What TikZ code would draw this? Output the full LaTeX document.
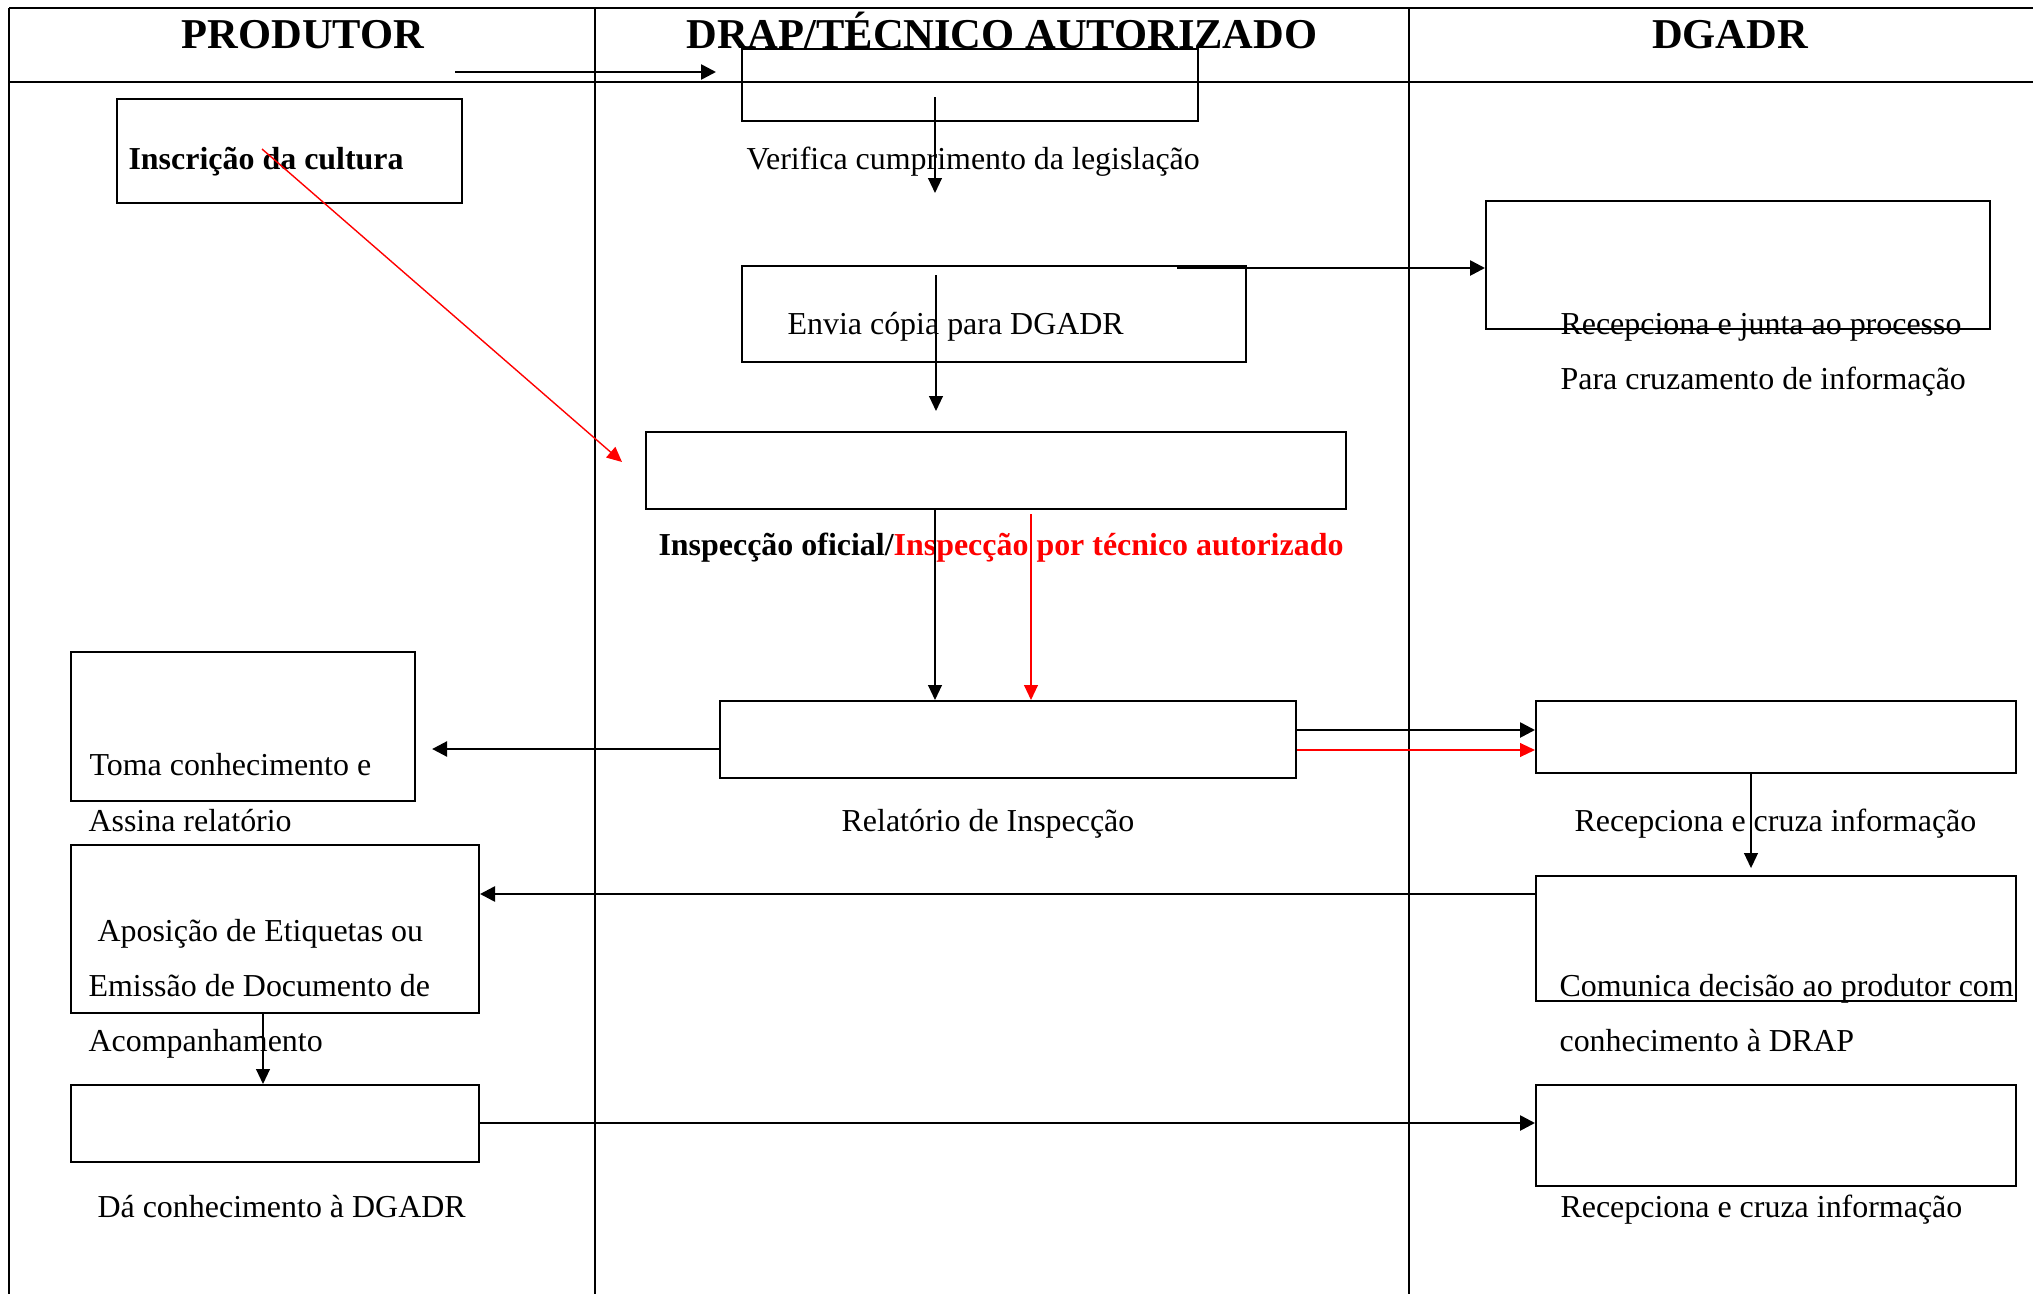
\documentclass[tikz,border=0pt]{standalone}
\usepackage{fontspec}
\setmainfont{Liberation Serif}
\usetikzlibrary{arrows.meta}
\newcommand\mkbox[5]{\node[box, minimum width={(#4-#2)*0.36pt}, minimum height={(#5-#3)*0.36pt}] (#1) at ({(#2+#4)/2},{(#3+#5)/2}) {};}
\begin{document}
\begin{tikzpicture}[x=0.36pt,y=-0.36pt,
  frame/.style={line width=0.75pt},
  lane/.style={line width=0.5pt},
  box/.style={draw, line width=0.72pt, inner sep=0pt},
  txt/.style={font=\fontsize{11.5pt}{14pt}\selectfont, inner sep=0pt, anchor=base west},
  btxt/.style={font=\fontsize{11.5pt}{14pt}\selectfont\bfseries, inner sep=0pt, anchor=base west},
  hdr/.style={font=\fontsize{15.3pt}{18pt}\selectfont\bfseries, inner sep=0pt, anchor=base},
  arrthin/.style={line width=0.5pt, -{Triangle[length=5.4pt,width=5pt]}},
  arrthick/.style={line width=0.95pt, -{Triangle[length=5.4pt,width=5.4pt]}},
  redarr/.style={red, line width=0.5pt, -{Triangle[length=5.4pt,width=5pt]}}
]
\useasboundingbox (0,0) rectangle (2033,1294);
% frame and lanes
\draw[frame] (9,8) -- (2033,8);
\draw[frame] (9,82) -- (2033,82);
\draw[lane] (9,8) -- (9,1294);
\draw[lane] (595,8) -- (595,1294);
\draw[lane] (1409,8) -- (1409,1294);
% headers
\node[hdr] (h1) at (303,48) {PRODUTOR};
\node[hdr] (h2) at (1002,48) {DRAP/TÉCNICO AUTORIZADO};
\node[hdr] (h3) at (1730,48) {DGADR};
% boxes
\mkbox{verif}{742}{49}{1198}{121}
\mkbox{inscr}{117}{99}{462}{203}
\mkbox{envia}{742}{266}{1246}{362}
\mkbox{junta}{1486}{201}{1990}{329}
\mkbox{insp}{646}{432}{1346}{509}
\mkbox{rel}{720}{701}{1296}{778}
\mkbox{rca}{1536}{701}{2016}{773}
\mkbox{com}{1536}{876}{2016}{1001}
\mkbox{rcb}{1536}{1085}{2016}{1186}
\mkbox{toma}{71}{652}{415}{801}
\mkbox{apos}{71}{845}{479}{1013}
\mkbox{da}{71}{1085}{479}{1162}
% texts
\node[txt] (verift) at (746,169) {Verifica cumprimento da legislação};
\node[btxt] (inscrt) at (128,169) {Inscrição da cultura};
\node[txt] (enviat) at (787,334) {Envia cópia para DGADR};
\node[txt] (juntat) at (1560,334) {Recepciona e junta ao processo};
\node[txt] (juntat2) at (1560,389) {Para cruzamento de informação};
\node[btxt] (inspt) at (658,555) {Inspecção oficial/\textcolor{red}{Inspecção por técnico autorizado}};
\node[txt, anchor=base] (relt) at (988,831) {Relatório de Inspecção};
\node[txt] (rcat) at (1574,831) {Recepciona e cruza informação};
\node[txt] (comt) at (1559,996) {Comunica decisão ao produtor com};
\node[txt] (comt2) at (1559,1051) {conhecimento à DRAP};
\node[txt] (rcbt) at (1560,1217) {Recepciona e cruza informação};
\node[txt] (tomat) at (89,775) {Toma conhecimento e};
\node[txt] (tomat2) at (88,831) {Assina relatório};
\node[txt] (apost) at (97,941) {Aposição de Etiquetas ou};
\node[txt] (apost2) at (88,996) {Emissão de Documento de};
\node[txt] (apost3) at (88,1051) {Acompanhamento};
\node[txt] (dat) at (97,1217) {Dá conhecimento à DGADR};
% helper coordinates
\coordinate (a1s) at (455,72);
\coordinate (a2s) at (935,97);
\coordinate (a2e) at (935,193);
\coordinate (a3s) at (1177,268);
\coordinate (a4s) at (936,275);
\coordinate (a5s) at (262,149);
\coordinate (a5e) at (622,462);
\coordinate (xr) at (1031,0);
\coordinate (ya) at (0,749);
\coordinate (yb) at (0,730);
\coordinate (yc) at (0,750);
\coordinate (xd) at (1751,0);
\coordinate (ye) at (0,894);
\coordinate (xf) at (263,0);
\coordinate (yg) at (0,1123);
% connectors
\draw[arrthick, shorten >=9pt] (a1s) -- (verif.west |- a1s);
\draw[arrthin] (a2s) -- (a2e);
\draw[arrthick] (a3s) -- (junta.west |- a3s);
\draw[arrthin, shorten >=7.2pt] (a4s) -- (insp.north -| a4s);
\draw[redarr] (a5s) -- (a5e);
\draw[arrthin] (insp.south -| a2s) -- (rel.north -| a2s);
\draw[redarr, shorten <=1.5pt] (insp.south -| xr) -- (rel.north -| xr);
\draw[arrthick, shorten >=5.8pt] (rel.west |- ya) -- (toma.east |- ya);
\draw[arrthick] (rel.east |- yb) -- (rca.west |- yb);
\draw[redarr] (rel.east |- yc) -- (rca.west |- yc);
\draw[arrthin, shorten >=2.5pt] (rca.south -| xd) -- (com.north -| xd);
\draw[arrthick] (com.west |- ye) -- (apos.east |- ye);
\draw[arrthin] (apos.south -| xf) -- (da.north -| xf);
\draw[arrthick] (da.east |- yg) -- (rcb.west |- yg);
\end{tikzpicture}
\end{document}
